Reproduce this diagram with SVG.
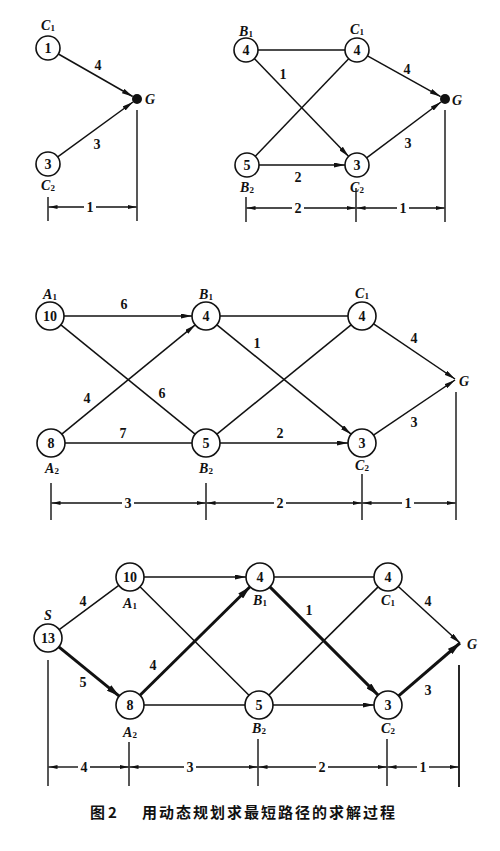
<svg xmlns="http://www.w3.org/2000/svg" width="500" height="851" viewBox="0 0 500 851">
<defs>
<marker id="ar" viewBox="0 0 11 5" refX="11" refY="2.5" markerWidth="11" markerHeight="5" orient="auto" markerUnits="userSpaceOnUse"><path d="M0,0 L11,2.5 L0,5 z" fill="#111"/></marker>
<marker id="arb" viewBox="0 0 13 7" refX="13" refY="3.5" markerWidth="13" markerHeight="7" orient="auto" markerUnits="userSpaceOnUse"><path d="M0,0 L13,3.5 L0,7 z" fill="#111"/></marker>
<marker id="ad" viewBox="0 0 9 4" refX="9" refY="2" markerWidth="9" markerHeight="4" orient="auto" markerUnits="userSpaceOnUse"><path d="M0,0 L9,2 L0,4 z" fill="#111"/></marker>
</defs>
<style>
.n circle{fill:#fff;stroke:#111;stroke-width:1.6}
.n circle.dot{fill:#111;stroke:none}
.n text.num,.v{font-family:"Liberation Serif",serif;font-size:14px;font-weight:bold;text-anchor:middle;fill:#111}
.lb{font-family:"Liberation Serif",serif;font-size:14px;font-style:italic;font-weight:bold;text-anchor:middle;fill:#111}
.lb tspan{font-size:9px;font-style:normal}
.e line{stroke:#111;stroke-width:1.5;fill:none}
.e line.b{stroke-width:3}
.d line{stroke:#111;stroke-width:1.4}
.cap{font-family:"Noto Sans CJK SC",sans-serif;font-size:15px;font-weight:bold;fill:#111;letter-spacing:2px}
</style>
<rect width="500" height="851" fill="#fff"/>

<g id="connectors" class="e">
<!-- top-left -->
<line x1="58.4" y1="54" x2="132.7" y2="96.5" marker-end="url(#ar)"/>
<line x1="57.7" y1="156.9" x2="133" y2="102" marker-end="url(#ar)"/>
<!-- top-right -->
<line x1="258" y1="50" x2="345" y2="50"/>
<line x1="254.3" y1="58.6" x2="348.7" y2="156.4" marker-end="url(#ar)"/>
<line x1="255.3" y1="156.3" x2="348.7" y2="58.7"/>
<line x1="259" y1="165" x2="345" y2="165" marker-end="url(#ar)"/>
<line x1="367.5" y1="55.8" x2="440.6" y2="96.6" marker-end="url(#ar)"/>
<line x1="366.6" y1="157.8" x2="441" y2="102" marker-end="url(#ar)"/>
<!-- middle -->
<line x1="64" y1="316" x2="192" y2="316" marker-end="url(#ar)"/>
<line x1="60.9" y1="324.8" x2="195.1" y2="434.2"/>
<line x1="61.8" y1="434.1" x2="195.2" y2="324.9" marker-end="url(#ar)"/>
<line x1="65" y1="443" x2="192" y2="443"/>
<line x1="220" y1="316" x2="348" y2="316"/>
<line x1="216.9" y1="324.8" x2="351.1" y2="434.2" marker-end="url(#ar)"/>
<line x1="216.9" y1="434.2" x2="351.1" y2="324.8"/>
<line x1="220" y1="443" x2="348" y2="443" marker-end="url(#ar)"/>
<line x1="373.6" y1="323.9" x2="455" y2="379" marker-end="url(#ar)"/>
<line x1="373.5" y1="435.1" x2="455" y2="380" marker-end="url(#ar)"/>
<!-- bottom -->
<line x1="59.2" y1="629.6" x2="118.8" y2="585.4"/>
<line class="b" x1="58.8" y1="646.9" x2="119.2" y2="696.1" marker-end="url(#arb)"/>
<line x1="144" y1="577" x2="246" y2="577" marker-end="url(#ar)"/>
<line x1="140" y1="586.8" x2="249" y2="695.2"/>
<line class="b" x1="140" y1="695.2" x2="250" y2="586.8" marker-end="url(#arb)"/>
<line x1="144" y1="705" x2="245" y2="705"/>
<line x1="274" y1="577" x2="374" y2="577"/>
<line class="b" x1="269.9" y1="586.9" x2="378.1" y2="695.1" marker-end="url(#arb)"/>
<line x1="268.9" y1="695.1" x2="378.1" y2="586.9"/>
<line x1="273" y1="705" x2="374" y2="705" marker-end="url(#ar)"/>
<line x1="398.3" y1="586.5" x2="460" y2="643" marker-end="url(#ar)"/>
<line class="b" x1="398.6" y1="695.9" x2="460" y2="643" marker-end="url(#arb)"/>
</g>

<g id="edge-labels">
<text class="v" x="98" y="70">4</text>
<text class="v" x="97" y="149">3</text>
<text class="v" x="283" y="79">1</text>
<text class="v" x="407" y="74">4</text>
<text class="v" x="408" y="148">3</text>
<text class="v" x="298" y="182">2</text>
<text class="v" x="124" y="309">6</text>
<text class="v" x="87" y="403">4</text>
<text class="v" x="162" y="398">6</text>
<text class="v" x="123" y="438">7</text>
<text class="v" x="257" y="348">1</text>
<text class="v" x="280" y="438">2</text>
<text class="v" x="414" y="343">4</text>
<text class="v" x="414" y="427">3</text>
<text class="v" x="83" y="606">4</text>
<text class="v" x="83" y="687">5</text>
<text class="v" x="153" y="670">4</text>
<text class="v" x="309" y="615">1</text>
<text class="v" x="428" y="606">4</text>
<text class="v" x="428" y="695">3</text>
</g>

<!-- top-left nodes -->
<g id="tl-C1" class="n"><circle cx="48" cy="48" r="12"/><text class="num" x="48" y="53">1</text><text class="lb" x="48" y="30">C<tspan dy="1">1</tspan></text></g>
<g id="tl-C2" class="n"><circle cx="48" cy="164" r="12"/><text class="num" x="48" y="169">3</text><text class="lb" x="48" y="190">C<tspan dy="1">2</tspan></text></g>
<g id="tl-G" class="n"><circle class="dot" cx="137" cy="99" r="5"/><text class="lb" x="150" y="104">G</text></g>
<!-- top-right nodes -->
<g id="tr-B1" class="n"><circle cx="246" cy="50" r="12"/><text class="num" x="246" y="55">4</text><text class="lb" x="246" y="36">B<tspan dy="1">1</tspan></text></g>
<g id="tr-C1" class="n"><circle cx="357" cy="50" r="12"/><text class="num" x="357" y="55">4</text><text class="lb" x="357" y="34">C<tspan dy="1">1</tspan></text></g>
<g id="tr-B2" class="n"><circle cx="247" cy="165" r="12"/><text class="num" x="247" y="170">5</text><text class="lb" x="247" y="192">B<tspan dy="1">2</tspan></text></g>
<g id="tr-C2" class="n"><circle cx="357" cy="165" r="12"/><text class="num" x="357" y="170">3</text><text class="lb" x="357" y="192">C<tspan dy="1">2</tspan></text></g>
<g id="tr-G" class="n"><circle class="dot" cx="445" cy="99" r="5"/><text class="lb" x="457" y="105">G</text></g>
<!-- middle nodes -->
<g id="m-A1" class="n"><circle cx="50" cy="316" r="14"/><text class="num" x="50" y="321">10</text><text class="lb" x="50" y="299">A<tspan dy="1">1</tspan></text></g>
<g id="m-B1" class="n"><circle cx="206" cy="316" r="14"/><text class="num" x="206" y="321">4</text><text class="lb" x="206" y="299">B<tspan dy="1">1</tspan></text></g>
<g id="m-C1" class="n"><circle cx="362" cy="316" r="14"/><text class="num" x="362" y="321">4</text><text class="lb" x="362" y="298">C<tspan dy="1">1</tspan></text></g>
<g id="m-A2" class="n"><circle cx="51" cy="443" r="14"/><text class="num" x="51" y="448">8</text><text class="lb" x="52" y="473">A<tspan dy="1">2</tspan></text></g>
<g id="m-B2" class="n"><circle cx="206" cy="443" r="14"/><text class="num" x="206" y="448">5</text><text class="lb" x="206" y="473">B<tspan dy="1">2</tspan></text></g>
<g id="m-C2" class="n"><circle cx="362" cy="443" r="14"/><text class="num" x="362" y="448">3</text><text class="lb" x="362" y="470">C<tspan dy="1">2</tspan></text></g>
<g id="m-G" class="n"><text class="lb" x="464" y="386">G</text></g>
<!-- bottom nodes -->
<g id="b-S" class="n"><circle cx="48" cy="638" r="14"/><text class="num" x="48" y="643">13</text><text class="lb" x="48" y="620">S</text></g>
<g id="b-A1" class="n"><circle cx="130" cy="577" r="14"/><text class="num" x="130" y="582">10</text><text class="lb" x="130" y="608">A<tspan dy="1">1</tspan></text></g>
<g id="b-A2" class="n"><circle cx="130" cy="705" r="14"/><text class="num" x="130" y="710">8</text><text class="lb" x="130" y="737">A<tspan dy="1">2</tspan></text></g>
<g id="b-B1" class="n"><circle cx="260" cy="577" r="14"/><text class="num" x="260" y="582">4</text><text class="lb" x="260" y="605">B<tspan dy="1">1</tspan></text></g>
<g id="b-B2" class="n"><circle cx="259" cy="705" r="14"/><text class="num" x="259" y="710">5</text><text class="lb" x="259" y="733">B<tspan dy="1">2</tspan></text></g>
<g id="b-C1" class="n"><circle cx="388" cy="577" r="14"/><text class="num" x="388" y="582">4</text><text class="lb" x="388" y="605">C<tspan dy="1">1</tspan></text></g>
<g id="b-C2" class="n"><circle cx="388" cy="705" r="14"/><text class="num" x="388" y="710">3</text><text class="lb" x="388" y="733">C<tspan dy="1">2</tspan></text></g>
<g id="b-G" class="n"><text class="lb" x="472" y="649">G</text></g>

<g id="dimensions" class="d">
<line x1="48" y1="197" x2="48" y2="221"/>
<line x1="137" y1="110" x2="137" y2="221"/>
<line x1="84" y1="207" x2="48.5" y2="207" marker-end="url(#ad)"/>
<line x1="96" y1="207" x2="136.5" y2="207" marker-end="url(#ad)"/>
<text class="v" x="90" y="212">1</text>

<line x1="246" y1="197" x2="246" y2="222"/>
<line x1="356" y1="188" x2="356" y2="222"/>
<line x1="445" y1="110" x2="445" y2="222"/>
<line x1="292" y1="208" x2="246.5" y2="208" marker-end="url(#ad)"/>
<line x1="304" y1="208" x2="355.5" y2="208" marker-end="url(#ad)"/>
<line x1="397" y1="208" x2="356.5" y2="208" marker-end="url(#ad)"/>
<line x1="409" y1="208" x2="444.5" y2="208" marker-end="url(#ad)"/>
<text class="v" x="298" y="213">2</text>
<text class="v" x="403" y="213">1</text>

<line x1="51" y1="483" x2="51" y2="520"/>
<line x1="206" y1="483" x2="206" y2="520"/>
<line x1="362" y1="474" x2="362" y2="520"/>
<line x1="456" y1="392" x2="456" y2="520"/>
<line x1="122" y1="503" x2="51.5" y2="503" marker-end="url(#ad)"/>
<line x1="134" y1="503" x2="205.5" y2="503" marker-end="url(#ad)"/>
<line x1="274" y1="503" x2="206.5" y2="503" marker-end="url(#ad)"/>
<line x1="286" y1="503" x2="361.5" y2="503" marker-end="url(#ad)"/>
<line x1="402" y1="503" x2="362.5" y2="503" marker-end="url(#ad)"/>
<line x1="414" y1="503" x2="455.5" y2="503" marker-end="url(#ad)"/>
<text class="v" x="128" y="508">3</text>
<text class="v" x="280" y="508">2</text>
<text class="v" x="408" y="508">1</text>

<line x1="48" y1="660" x2="48" y2="786"/>
<line x1="129" y1="742" x2="129" y2="786"/>
<line x1="258" y1="739" x2="258" y2="786"/>
<line x1="387" y1="739" x2="387" y2="786"/>
<line x1="459" y1="665" x2="459" y2="787" style="stroke-width:1.8"/>
<line x1="78" y1="767" x2="48.5" y2="767" marker-end="url(#ad)"/>
<line x1="90" y1="767" x2="128.5" y2="767" marker-end="url(#ad)"/>
<line x1="184" y1="767" x2="129.5" y2="767" marker-end="url(#ad)"/>
<line x1="196" y1="767" x2="257.5" y2="767" marker-end="url(#ad)"/>
<line x1="316" y1="767" x2="258.5" y2="767" marker-end="url(#ad)"/>
<line x1="328" y1="767" x2="386.5" y2="767" marker-end="url(#ad)"/>
<line x1="417" y1="767" x2="387.5" y2="767" marker-end="url(#ad)"/>
<line x1="429" y1="767" x2="458.5" y2="767" marker-end="url(#ad)"/>
<text class="v" x="84" y="772">4</text>
<text class="v" x="190" y="772">3</text>
<text class="v" x="322" y="772">2</text>
<text class="v" x="423" y="772">1</text>
</g>

<g id="caption">
<text class="cap" x="90" y="818" style="letter-spacing:3px">图2</text>
<text class="cap" x="142" y="818">用动态规划求最短路径的求解过程</text>
</g>
</svg>
